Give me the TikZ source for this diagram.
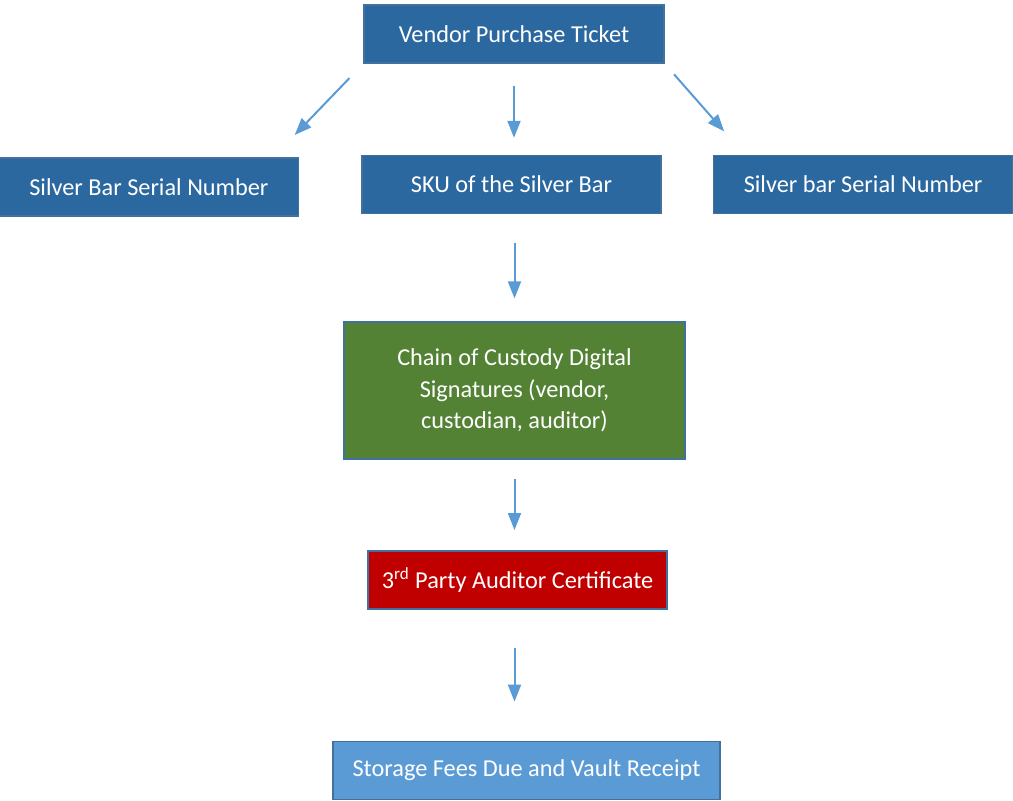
\documentclass[tikz,border=0pt]{standalone}
\usepackage{fontspec}
\setmainfont{Carlito}
\usetikzlibrary{arrows.meta,
                calc,
                positioning}
\definecolor{boxblue}{HTML}{2C68A0}
\definecolor{edgeblue}{HTML}{41719C}
\definecolor{lightblue}{HTML}{5B9BD5}
\definecolor{custgreen}{HTML}{548235}
\definecolor{auditred}{HTML}{C00000}
\tikzset{
        base/.style={draw=edgeblue, line width=0.8pt, align=center,
                     text=white, font=\fontsize{12.15}{15.75}\selectfont,
                     inner sep=0pt},
        bluebox/.style={base, fill=boxblue, minimum width=149.5pt, minimum height=29pt},
        chainbox/.style={base, fill=custgreen, minimum width=170.5pt, minimum height=68.5pt},
        auditbox/.style={base, fill=auditred, minimum width=149.5pt, minimum height=29pt},
        storebox/.style={base, fill=lightblue, minimum width=193.5pt, minimum height=29pt},
        flow/.style={-{Triangle[length=8.5pt, width=6.5pt]}, draw=lightblue, line width=1pt},
 }
\begin{document}
\begin{tikzpicture}
    \useasboundingbox (0,0) rectangle (506.5pt,-400pt);

    \node[bluebox, minimum width=150pt] (ticket) at (257pt,-17pt) {Vendor Purchase Ticket};

    \node[bluebox, below=45.5pt of ticket, xshift=-1.25pt] (skuBar) {SKU of the Silver Bar};
    \node[bluebox, left=31pt of skuBar, yshift=-1.25pt] (serialL) {Silver Bar Serial Number};
    \node[bluebox, right=25.5pt of skuBar] (serialR) {Silver bar Serial Number};

    \node[chainbox, below=53.5pt of skuBar, xshift=1.5pt] (chain)
        {Chain of Custody Digital\\ Signatures (vendor,\\ custodian, auditor)};

    \node[auditbox, below=45pt of chain, xshift=1.5pt] (auditor)
        {3\textsuperscript{rd} Party Auditor Certificate};

    \node[storebox, below=65.5pt of auditor, xshift=4.5pt] (storage)
        {Storage Fees Due and Vault Receipt};

    % arrows from the ticket
    \draw[flow, shorten <=9.9pt, shorten >=15.5pt]
        (ticket.south west) -- ([xshift=-13pt]serialL.north east);
    \draw[flow, shorten <=11pt, shorten >=8.5pt]
        (ticket.south) -- (ticket.south |- skuBar.north);
    \draw[flow, shorten <=7pt, shorten >=15.6pt]
        (ticket.south east) -- ([xshift=16pt]serialR.north west);

    % down the chain
    \draw[flow, shorten <=14.5pt, shorten >=11.5pt]
        (chain.north |- skuBar.south) -- (chain.north);
    \draw[flow, shorten <=9.5pt, shorten >=10pt]
        (chain.south) -- (chain.south |- auditor.north);
    \draw[flow, shorten <=19pt, shorten >=19.5pt]
        (chain.south |- auditor.south) -- (chain.south |- storage.north);
\end{tikzpicture}
\end{document}
